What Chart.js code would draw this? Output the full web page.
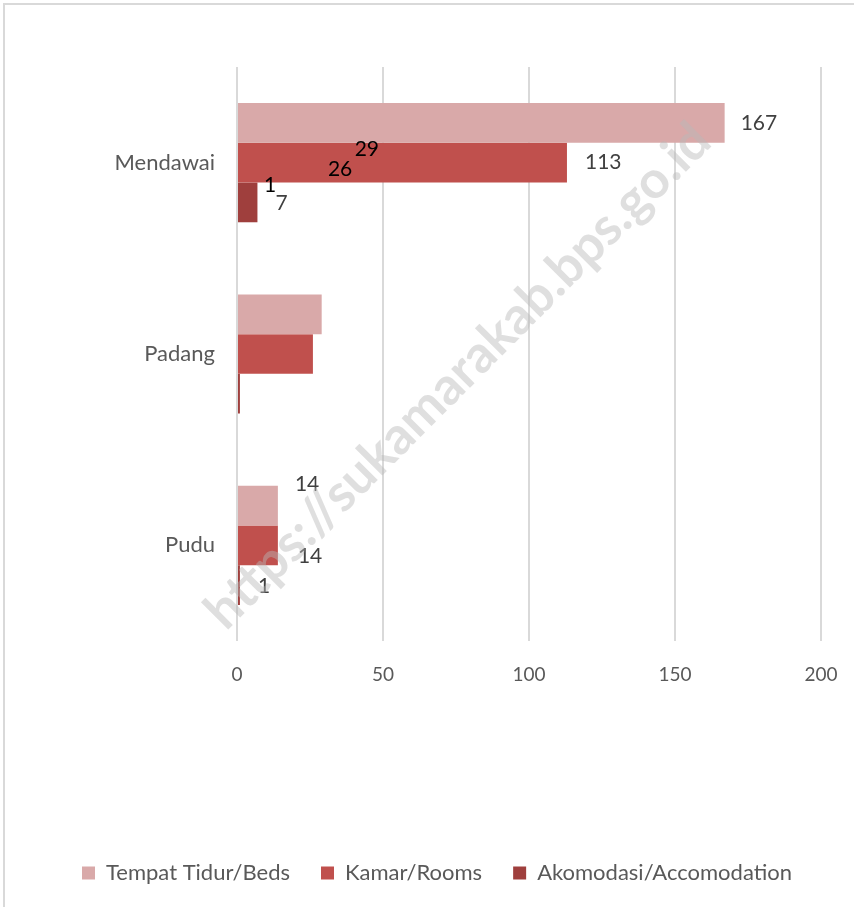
<!DOCTYPE html>
<html>
<head>
<meta charset="utf-8">
<script src="https://cdn.jsdelivr.net/npm/chart.js@4/dist/chart.umd.min.js"></script>
<style>
  html, body { margin: 0; padding: 0; background: #fff; }
  #wrap { width: 854px; height: 907px; }
</style>
</head>
<body>
<div id="wrap"><canvas id="barchart" width="854" height="907"></canvas></div>
<script>
const categories = ['Mendawai', 'Padang', 'Pudu'];
const beds = [167, 29, 14];
const rooms = [113, 26, 14];
const accommodation = [7, 1, 1];
const xTicks = [0, 50, 100, 150, 200];
const seriesNames = ['Tempat Tidur/Beds', 'Kamar/Rooms', 'Akomodasi/Accomodation'];

// label nudges (px) as in the original export, per series then per category
const labelShift = [
    [[0, 0], [17, -165], [1, -21]],
    [[2, 0], [-1, -185], [4, 11]],
    [[2, 1], [8, -208], [2, 1]]
];
const labelColor = ['#404040', '#000000', '#404040'];

const FONT = 'Lato, "Open Sans", sans-serif';

const barLabels = {
    id: 'barLabels',
    afterDatasetsDraw(chart) {
        const c = chart.ctx;
        c.save();
        c.font = '21px ' + FONT;
        c.textBaseline = 'middle';
        c.textAlign = 'left';
        chart.data.datasets.forEach((ds, i) => {
            chart.getDatasetMeta(i).data.forEach((bar, j) => {
                const s = labelShift[i][j];
                c.fillStyle = labelColor[j];
                c.fillText(String(ds.data[j]), bar.x + 16 + s[0], bar.y + s[1]);
            });
        });
        c.restore();
    }
};

const frame = {
    id: 'frame',
    afterDraw(chart) {
        const c = chart.ctx;
        c.save();
        // watermark
        c.translate(458, 376);
        c.rotate(-Math.PI / 4);
        c.font = 'bold 52px ' + FONT;
        c.fillStyle = 'rgba(185,185,185,0.45)';
        c.textAlign = 'center';
        c.textBaseline = 'middle';
        c.fillText('https://sukamarakab.bps.go.id', 0, 0);
        c.restore();
        c.save();
        c.strokeStyle = '#d9d9d9';
        c.lineWidth = 2;
        c.beginPath();
        c.moveTo(4, 907);
        c.lineTo(4, 4);
        c.lineTo(854, 4);
        c.stroke();
        c.restore();
    }
};

const ctx = document.getElementById('barchart').getContext('2d');
const barchart = new Chart(ctx, {
    type: 'bar',
    data: {
        labels: categories,
        datasets: [
            { label: seriesNames[0], data: beds, backgroundColor: '#d9a9a9' },
            { label: seriesNames[1], data: rooms, backgroundColor: '#c0504d' },
            { label: seriesNames[2], data: accommodation, backgroundColor: '#9f3f3d' }
        ]
    },
    options: {
        indexAxis: 'y',
        responsive: false,
        animation: false,
        datasets: {
            bar: { categoryPercentage: 0.623, barPercentage: 1 }
        },
        layout: { padding: { top: 67, right: 15, bottom: 13, left: 35 } },
        scales: {
            x: {
                min: 0,
                max: 200,
                afterBuildTicks(scale) {
                    scale.ticks = xTicks.map(v => ({ value: v }));
                },
                afterFit(scale) {
                    scale.height = 190;
                    scale.paddingLeft = 0;
                    scale.paddingRight = 33;
                },
                grid: { color: '#d9d9d9', lineWidth: 2, drawTicks: false },
                border: { display: false },
                ticks: { color: '#595959', padding: 22, font: { family: FONT, size: 19 } }
            },
            y: {
                afterFit(scale) { scale.width = 202; },
                grid: { display: false, drawTicks: false },
                border: { display: false },
                ticks: { color: '#595959', padding: 22, font: { family: FONT, size: 22 } }
            }
        },
        plugins: {
            legend: {
                position: 'bottom',
                labels: {
                    color: '#595959',
                    font: { family: FONT, size: 22 },
                    boxWidth: 13,
                    boxHeight: 13,
                    padding: 31
                }
            },
            tooltip: { enabled: false }
        }
    },
    plugins: [barLabels, frame]
});
</script>
</body>
</html>
